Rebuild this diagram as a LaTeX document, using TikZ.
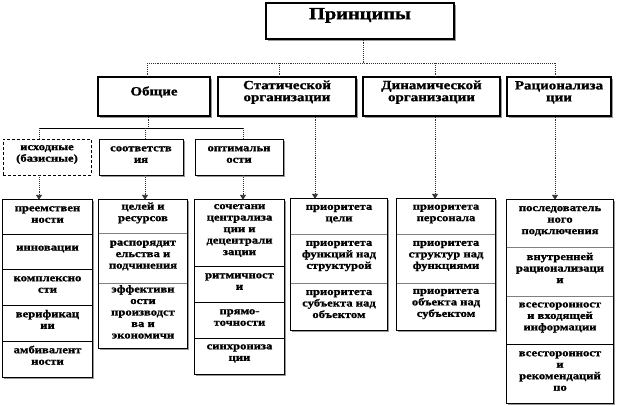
\documentclass[tikz,border=0pt]{standalone}
\usepackage{fontspec}
\setmainfont{Liberation Serif}[FakeStretch=1.2, BoldFeatures={FakeBold=1.2}]
\usetikzlibrary{arrows.meta,fit,shadows,backgrounds}
\newcommand\bx[7]{\node[#1, fit={(#3,#4)(#5,#6)}] (#2) {#7};}
\tikzset{
  base/.style={inner sep=0pt, align=center, text=black},
  topbox/.style={base, draw, fill=white, line width=1.2pt,
     drop shadow={shadow xshift=1.5pt, shadow yshift=-1.5pt, fill=gray!80, opacity=1},
     font=\bfseries\fontsize{17}{17}\selectfont},
  midbox/.style={base, draw, fill=white, line width=1.2pt,
     drop shadow={shadow xshift=1.5pt, shadow yshift=-1.5pt, fill=gray!80, opacity=1},
     font=\bfseries\fontsize{12.5}{12}\selectfont},
  lowbox/.style={base, draw, fill=white, line width=0.9pt,
     drop shadow={shadow xshift=1.5pt, shadow yshift=-1.5pt, fill=gray!80, opacity=1},
     font=\bfseries\fontsize{10.5}{11.5}\selectfont},
  dashbox/.style={base, draw, densely dashed, line width=0.7pt,
     font=\bfseries\fontsize{10.5}{11.5}\selectfont},
  cell/.style={base, font=\bfseries\fontsize{10.5}{11.5}\selectfont},
  colframe/.style={draw, fill=white, line width=0.9pt,
     drop shadow={shadow xshift=1.5pt, shadow yshift=-1.5pt, fill=gray!80, opacity=1}},
  sepblack/.style={draw, line width=0.9pt, black},
  sepgray/.style={draw, line width=1.3pt, gray},
  dotline/.style={draw, densely dotted, line width=0.9pt, black!80},
  solidline/.style={draw, line width=0.8pt, black},
  dotarrow/.style={dotline, -{Triangle[length=5pt,width=6pt]}},
}
\begin{document}
\begin{tikzpicture}[x=1pt,y=-1pt]
\useasboundingbox (0,0) rectangle (620,405);
% top
\bx{topbox}{P}{266}{3}{454}{39}{Принципы}
% level 2
\bx{midbox}{O}{98}{77}{210}{116}{Общие}
\bx{midbox}{S}{218}{77}{356}{116}{Статической\\организации}
\bx{midbox}{D}{363}{77}{500}{116}{Динамической\\организации}
\bx{midbox}{R}{507}{77}{611}{116}{Рационализа\\ции}
% level 3
\bx{dashbox}{I}{3}{139}{91}{175}{исходные\\(базисные)}
\bx{lowbox}{C}{99}{139}{183}{175}{соответств\\ия}
\bx{lowbox}{Op}{195}{139}{283}{175}{оптимальн\\ости}
% level 4 cells
\bx{cell}{c11}{3}{200}{92}{234}{преемствен\\ности}
\bx{cell}{c12}{3}{234}{92}{269}{инновации}
\bx{cell}{c13}{3}{269}{92}{305}{комплексно\\сти}
\bx{cell}{c14}{3}{305}{92}{341}{верификац\\ии}
\bx{cell}{c15}{3}{341}{92}{377}{амбивалент\\ности}
\bx{cell}{c21}{99}{200}{187}{233}{целей и\\ресурсов}
\bx{cell}{c22}{99}{233}{187}{283}{распорядит\\ельства и\\подчинения}
\bx{cell}{c23}{99}{283}{187}{348}{эффективн\\ости\\производст\\ва и\\экономичн}
\bx{cell}{c31}{195}{200}{284}{266}{сочетани\\централиза\\ции и\\децентрали\\зации}
\bx{cell}{c32}{195}{266}{284}{302}{ритмичност\\и}
\bx{cell}{c33}{195}{302}{284}{338}{прямо-\\точности}
\bx{cell}{c34}{195}{338}{284}{374}{синхрониза\\ции}
\bx{cell}{c41}{291}{199}{387}{234}{приоритета\\цели}
\bx{cell}{c42}{291}{234}{387}{283}{приоритета\\функций над\\структурой}
\bx{cell}{c43}{291}{283}{387}{330}{приоритета\\субъекта над\\объектом}
\bx{cell}{c51}{397}{199}{495}{234}{приоритета\\персонала}
\bx{cell}{c52}{397}{234}{495}{283}{приоритета\\структур над\\функциями}
\bx{cell}{c53}{397}{283}{495}{330}{приоритета\\объекта над\\субъектом}
\bx{cell}{c61}{507}{200}{613}{247}{последователь\\ного\\подключения}
\bx{cell}{c62}{507}{247}{613}{296}{внутренней\\рационализаци\\и}
\bx{cell}{c63}{507}{296}{613}{344}{всесторонност\\и входящей\\информации}
\bx{cell}{c64}{507}{344}{613}{403}{всесторонност\\и\\рекомендаций\\по}
\begin{scope}[on background layer]
\path[colframe] (c11.north west) rectangle (c15.south east);
\path[colframe] (c21.north west) rectangle (c23.south east);
\path[colframe] (c31.north west) rectangle (c34.south east);
\path[colframe] (c41.north west) rectangle (c43.south east);
\path[colframe] (c51.north west) rectangle (c53.south east);
\path[colframe] (c61.north west) rectangle (c64.south east);
\end{scope}
% separators
\path[sepblack] (c11.south west) -- (c11.south east);
\path[sepblack] (c12.south west) -- (c12.south east);
\path[sepblack] (c13.south west) -- (c13.south east);
\path[sepblack] (c14.south west) -- (c14.south east);
\path[sepgray] (c21.south west) -- (c21.south east);
\path[sepgray] (c22.south west) -- (c22.south east);
\path[sepblack] (c31.south west) -- (c31.south east);
\path[sepblack] (c32.south west) -- (c32.south east);
\path[sepblack] (c33.south west) -- (c33.south east);
\path[sepgray] (c41.south west) -- (c41.south east);
\path[sepgray] (c42.south west) -- (c42.south east);
\path[sepgray] (c51.south west) -- (c51.south east);
\path[sepgray] (c52.south west) -- (c52.south east);
\path[sepgray] (c61.south west) -- (c61.south east);
\path[sepgray] (c62.south west) -- (c62.south east);
\path[sepblack] (c63.south west) -- (c63.south east);
% top bus
\coordinate (tbP) at (363,63);
\coordinate (tb1) at (147,63);
\coordinate (tb2) at (279,63);
\coordinate (tb3) at (435,63);
\coordinate (tb4) at (555,63);
\path[dotline] (tb1) -- (tb4);
\path[dotline] (P.south -| tbP) -- (tbP);
\path[dotline] (tb1) -- (tb1 |- O.north);
\path[dotline] (tb2) -- (tb2 |- S.north);
\path[dotline] (tb3) -- (tb3 |- D.north);
\path[dotline] (tb4) -- (tb4 |- R.north);
% second bus
\coordinate (sbO) at (148,128);
\coordinate (sb1) at (39,128);
\coordinate (sb2) at (145,128);
\coordinate (sb3) at (243,128);
\path[solidline] (sb1) -- (sb3);
\path[dotline] (O.south -| sbO) -- (sbO);
\path[dotline] (sb1) -- (sb1 |- I.north);
\path[dotline] (sb2) -- (sb2 |- C.north);
\path[dotline] (sb3) -- (sb3 |- Op.north);
% arrows to level 4
\path[dotarrow] (I.south -| sb1) -- (sb1 |- c11.north);
\path[dotarrow] (C.south -| sb2) -- (sb2 |- c21.north);
\path[dotarrow] (Op.south -| sb3) -- (sb3 |- c31.north);
\coordinate (xS) at (315,116);
\coordinate (xD) at (435,116);
\coordinate (xR) at (555,116);
\path[dotarrow] (S.south -| xS) -- (xS |- c41.north);
\path[dotarrow] (D.south -| xD) -- (xD |- c51.north);
\path[dotarrow] (R.south -| xR) -- (xR |- c61.north);
\end{tikzpicture}
\end{document}
